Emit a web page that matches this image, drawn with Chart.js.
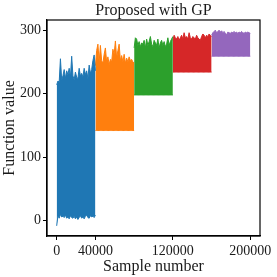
<!doctype html>
<html lang="en">
<head>
  <meta charset="utf-8">
  <title>Proposed with GP</title>
  <script src="https://cdn.jsdelivr.net/npm/chart.js"></script>
  <style>
    html, body { margin: 0; padding: 0; background: #fff; }
    #wrap { width: 277px; height: 277px; }
  </style>
</head>
<body>
  <div id="wrap"><canvas id="chart" width="277" height="277"></canvas></div>

  <script>
    // segment boundaries (sample number) and colours
    const segStarts = [0, 40000, 80000, 120000, 160000];
    const segLength = 40000;
    const segColors = ['#1f77b4', '#ff7f0e', '#2ca02c', '#d62728', '#9467bd'];

    // upper envelope of each segment
    const blueTop   = [214, 220, 218, 255, 222, 228, 238, 224, 236, 230, 240, 226, 259, 228, 222, 234,
                       226, 224, 240, 228, 232, 226, 240, 230, 236, 224, 245, 232, 238, 252, 261, 236];
    const orangeTop = [244, 268, 278, 250, 276, 252, 248, 262, 272, 250, 258, 246, 254, 250, 270, 262,
                       283, 256, 268, 278, 252, 260, 250, 262, 248, 256, 250, 258, 252, 254, 250, 248];
    const greenTop  = [272, 288, 286, 276, 282, 274, 280, 278, 284, 272, 286, 276, 282, 290, 278, 274,
                       284, 280, 276, 286, 272, 280, 284, 276, 282, 274, 278, 288, 276, 282, 286, 290];
    const redTop    = [284, 292, 288, 286, 290, 284, 288, 292, 286, 296, 288, 290, 286, 296, 288, 286,
                       290, 288, 286, 292, 288, 286, 284, 290, 294, 292, 288, 292, 290, 294, 292, 290];
    const purpleTop = [292, 296, 298, 300, 296, 298, 300, 297, 299, 296, 298, 295, 293, 297, 296, 295,
                       297, 296, 298, 296, 297, 295, 297, 296, 298, 296, 295, 297, 296, 297, 296, 295];

    // lower envelope: the first segment wanders near zero, the others are flat
    const blueBottom = [-8, 8, 4, 10, 6, 7, 5, 9, 4, 6, 3, 8, 5, 4, 7, 3,
                        6, 2, 5, 8, 4, 6, 3, 7, 9, 5, 4, 8, 6, 7, 5, 9];
    const segFloors = [null, 142, 198, 234, 259];

    const xTicks = [0, 40000, 120000, 200000];
    const yTicks = [0, 100, 200, 300];
    const titleText = 'Proposed with GP';

    const tops = [blueTop, orangeTop, greenTop, redTop, purpleTop];

    const datasets = [];
    tops.forEach((top, k) => {
      const n = top.length;
      const xs = top.map((_, i) => segStarts[k] + i * segLength / (n - 1));
      const low = xs.map((x, i) => ({ x, y: k === 0 ? blueBottom[i] : segFloors[k] }));
      const high = xs.map((x, i) => ({ x, y: top[i] }));
      datasets.push({
        data: low, borderColor: segColors[k], borderWidth: 1,
        pointRadius: 0, fill: false
      });
      datasets.push({
        data: high, borderColor: segColors[k], backgroundColor: segColors[k],
        borderWidth: 1, pointRadius: 0, fill: '-1'
      });
    });

    const serif = "'Liberation Serif', 'Times New Roman', serif";
    const ink = '#1a1a1a';

    // black box around the plot area and a title centred over it, like matplotlib
    const frame = {
      id: 'frame',
      afterDraw(chart) {
        const { ctx, chartArea: a } = chart;
        ctx.save();
        ctx.strokeStyle = '#000';
        ctx.lineWidth = 1.2;
        ctx.strokeRect(a.left, a.top, a.right - a.left, a.bottom - a.top);
        ctx.fillStyle = ink;
        ctx.font = '16px ' + serif;
        ctx.textAlign = 'center';
        ctx.textBaseline = 'middle';
        ctx.fillText(titleText, (a.left + a.right) / 2, 11);
        ctx.restore();
      }
    };

    new Chart(document.getElementById('chart'), {
      type: 'line',
      data: { datasets },
      plugins: [frame],
      options: {
        responsive: false,
        animation: false,
        layout: { padding: { left: 0, right: 17, top: 20, bottom: 0 } },
        plugins: {
          legend: { display: false },
          tooltip: { enabled: false },
          title: { display: false }
        },
        scales: {
          x: {
            type: 'linear',
            min: -10000, max: 210000,
            afterBuildTicks: s => { s.ticks = xTicks.map(v => ({ value: v })); },
            afterFit: s => { s.height = 41; },
            ticks: {
              color: ink, padding: 3, maxRotation: 0,
              font: { family: serif, size: 14 },
              callback: v => String(v)
            },
            grid: { drawOnChartArea: false, drawTicks: true, tickLength: 4, color: '#000' },
            border: { display: true, color: '#000', width: 1.2 },
            title: {
              display: true, text: 'Sample number', color: ink,
              font: { family: serif, size: 16 }, padding: { top: 0, bottom: 1 }
            }
          },
          y: {
            min: -24, max: 316,
            afterBuildTicks: s => { s.ticks = yTicks.map(v => ({ value: v })); },
            afterFit: s => { s.width = 47; },
            ticks: {
              color: ink, padding: 2,
              font: { family: serif, size: 14 }
            },
            grid: { drawOnChartArea: false, drawTicks: true, tickLength: 4, color: '#000' },
            border: { display: true, color: '#000', width: 1.2 },
            title: {
              display: true, text: 'Function value', color: ink,
              font: { family: serif, size: 16 }, padding: { top: 0, bottom: 2 }
            }
          }
        }
      }
    });
  </script>
</body>
</html>
